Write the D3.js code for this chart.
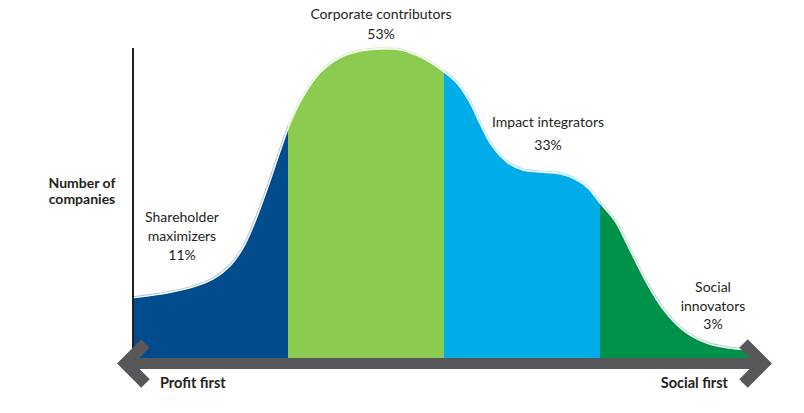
<!DOCTYPE html>
<html>
<head>
<meta charset="utf-8">
<script src="https://cdn.jsdelivr.net/npm/d3@7"></script>
<style>
  html, body { margin: 0; padding: 0; background: #ffffff; }
  svg { display: block; }
  text { font-family: "Lato", "Open Sans", sans-serif; fill: #231f20; }
</style>
</head>
<body>
<svg id="chart" width="804" height="413"></svg>
<script>
// ---- data ----
const positions = [0, 4.5, 9.3, 13.0, 15.7, 17.8, 19.7, 21.6, 23.7, 25.3, 27.4, 30.1, 33.3, 36.5, 39.7, 42.9, 46.2, 49.8, 52.2, 54.2, 55.8, 57.7, 60.1, 62.7, 65.4, 68.6, 71.0, 73.1, 75.0, 77.4, 79.8, 82.5, 85.1, 88.3, 92.1, 95.8, 99.0, 100];
const companies = [19.4, 20.6, 22.6, 25.5, 29.7, 35.5, 43.9, 54.2, 66.5, 75.5, 84.2, 91.9, 96.8, 99.0, 99.7, 99.4, 97.1, 92.6, 88.4, 82.3, 75.5, 68.4, 63.2, 60.6, 60.0, 59.4, 57.7, 54.8, 50.0, 44.2, 34.8, 24.2, 15.8, 9.0, 4.8, 3.2, 2.6, 2.5];
const segmentNames = ["Shareholder maximizers", "Corporate contributors", "Impact integrators", "Social innovators"];
const segmentShares = ["11%", "53%", "33%", "3%"];
const segmentBounds = [0, 25, 50, 75, 100];
const segmentColors = ["#004c8c", "#8bcb50", "#00ade8", "#00914a"];
const yAxisTitle = ["Number of", "companies"];
const xAxisEnds = ["Profit first", "Social first"];

// ---- layout ----
const svg = d3.select("#chart");
const x = d3.scaleLinear().domain([0, 100]).range([132, 756]);
const y = d3.scaleLinear().domain([0, 100]).range([358, 48]);
const baseY = 363.5;

const pts = positions.map((p, i) => ({ p, c: companies[i] }));

const defs = svg.append("defs");
segmentNames.forEach((n, i) => {
  defs.append("clipPath").attr("id", "seg" + i)
    .append("rect")
    .attr("x", x(segmentBounds[i]))
    .attr("y", 0)
    .attr("width", x(segmentBounds[i + 1]) - x(segmentBounds[i]))
    .attr("height", 413);
});

const curve = d3.curveCatmullRom.alpha(0.5);
const area = d3.area()
  .x(d => x(d.p))
  .y0(baseY)
  .y1(d => y(d.c))
  .curve(curve);
const line = d3.line()
  .x(d => x(d.p))
  .y(d => y(d.c))
  .curve(curve);

segmentNames.forEach((n, i) => {
  const g = svg.append("g").attr("clip-path", `url(#seg${i})`);
  g.append("path").datum(pts).attr("d", area).attr("fill", segmentColors[i]);
});
// outline halo + white edge
segmentNames.forEach((n, i) => {
  const g = svg.append("g").attr("clip-path", `url(#seg${i})`);
  g.append("path").datum(pts).attr("d", line)
    .attr("fill", "none").attr("stroke", segmentColors[i])
    .attr("stroke-opacity", 0.35).attr("stroke-width", 3.2);
  g.append("path").datum(pts).attr("d", line)
    .attr("fill", "none").attr("stroke", "#ffffff")
    .attr("stroke-width", 1.4);
});

// vertical axis line
svg.append("line")
  .attr("x1", 133).attr("x2", 133)
  .attr("y1", 48).attr("y2", baseY)
  .attr("stroke", "#231f20").attr("stroke-width", 2);

// double-headed arrow
const arrowColor = "#58585a";
const aw = 12, L = 20;
svg.append("line")
  .attr("x1", 125).attr("x2", 764)
  .attr("y1", baseY).attr("y2", baseY)
  .attr("stroke", arrowColor).attr("stroke-width", 11);
const lv = 125.5, rv = 763.5;
svg.append("path")
  .attr("d", `M${lv + L},${baseY - L} L${lv},${baseY} L${lv + L},${baseY + L}`)
  .attr("fill", "none").attr("stroke", arrowColor)
  .attr("stroke-width", aw).attr("stroke-linejoin", "miter").attr("stroke-linecap", "butt");
svg.append("path")
  .attr("d", `M${rv - L},${baseY - L} L${rv},${baseY} L${rv - L},${baseY + L}`)
  .attr("fill", "none").attr("stroke", arrowColor)
  .attr("stroke-width", aw).attr("stroke-linejoin", "miter").attr("stroke-linecap", "butt");

// axis titles
const yt = svg.append("text").attr("text-anchor", "middle")
  .attr("font-size", 14).attr("font-weight", "bold");
yAxisTitle.forEach((t, i) => {
  yt.append("tspan").attr("x", 82).attr("y", 188 + i * 16).text(t);
});
svg.append("text").attr("x", 160).attr("y", 388)
  .attr("font-size", 14.5).attr("font-weight", "bold").text(xAxisEnds[0]);
svg.append("text").attr("x", 728).attr("y", 388).attr("text-anchor", "end")
  .attr("font-size", 14.5).attr("font-weight", "bold").text(xAxisEnds[1]);

// segment labels
const labelLayout = [
  { cx: 182, lines: ["Shareholder", "maximizers"], y0: 222, dy: 19 },
  { cx: 381, lines: ["Corporate contributors"], y0: 19, dy: 20 },
  { cx: 548, lines: ["Impact integrators"], y0: 127, dy: 23 },
  { cx: 713, lines: ["Social", "innovators"], y0: 292, dy: 18.5 }
];
labelLayout.forEach((lay, i) => {
  const t = svg.append("text").attr("text-anchor", "middle").attr("font-size", 14);
  const allLines = lay.lines.concat([segmentShares[i]]);
  allLines.forEach((s, k) => {
    t.append("tspan").attr("x", lay.cx).attr("y", lay.y0 + k * lay.dy).text(s);
  });
});
</script>
</body>
</html>
